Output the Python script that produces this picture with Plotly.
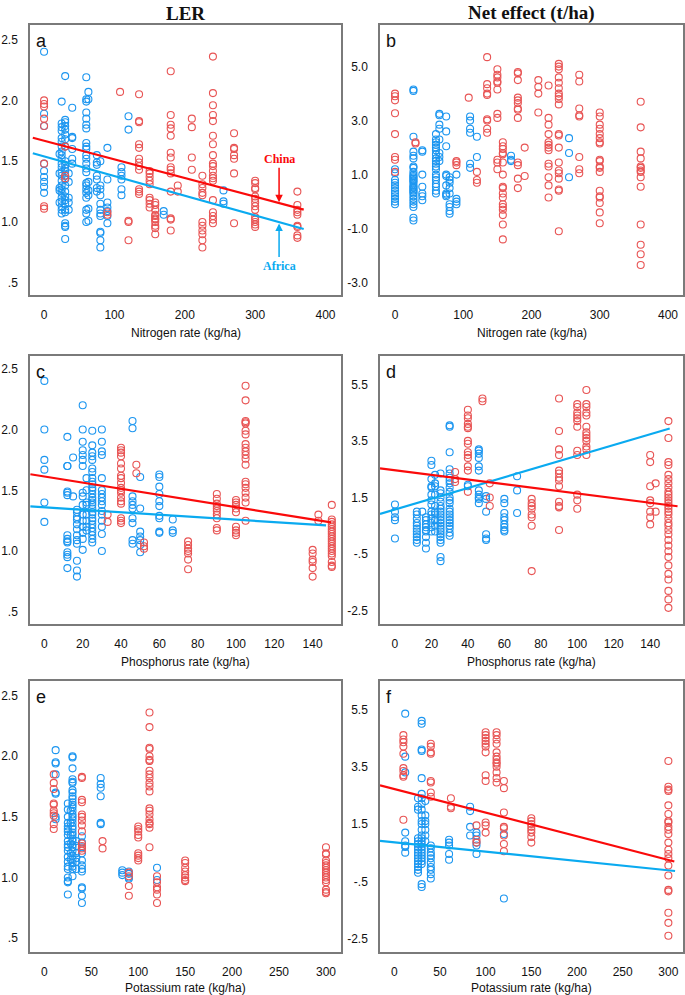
import plotly.graph_objects as go

# ---------------- data (columns: x value, list of y values) ----------------
# Panel a: LER vs Nitrogen
a_af_cols = [0, 22, 25, 30, 35, 40, 60, 63, 75, 80, 90, 110, 120, 170, 255]
a_af_vals = [
    [2.40, 1.89, 1.79, 1.48, 1.42, 1.37, 1.33, 1.29, 1.24],
    [1.56, 1.40, 1.28, 1.26, 1.16],
    [1.99, 1.81, 1.78, 1.75, 1.69, 1.66, 1.62, 1.58, 1.55, 1.52, 1.48, 1.45, 1.41, 1.38, 1.34, 1.30, 1.27, 1.24, 1.20, 1.17, 1.13, 1.10, 1.07],
    [2.20, 1.84, 1.82, 1.79, 1.76, 1.72, 1.68, 1.62, 1.50, 1.47, 1.44, 1.42, 1.38, 1.35, 1.30, 1.25, 1.21, 1.18, 1.15, 1.10, 1.08, 0.99, 0.97, 0.96, 0.86],
    [1.40, 1.33, 1.20, 1.16, 1.10],
    [1.94, 1.70, 1.69, 1.60, 1.52, 1.48],
    [2.19, 2.01, 1.99, 1.90, 1.85, 1.80, 1.77, 1.65, 1.62, 1.60, 1.55, 1.52, 1.48, 1.44, 1.41, 1.32, 1.30, 1.27, 1.24, 1.20, 1.10, 1.07, 1.00],
    [2.07, 2.01, 1.33, 1.26, 1.22, 1.11, 1.01],
    [1.55, 1.49, 1.47, 1.38, 1.35, 1.28, 1.25],
    [1.50, 1.30, 1.27, 1.22, 1.15, 1.10, 1.07, 1.05, 0.92, 0.91, 0.85, 0.79],
    [1.61, 1.35, 1.16, 1.12, 1.09, 1.05, 0.99],
    [1.45, 1.41, 1.38, 1.35, 1.27, 1.22],
    [1.87, 1.76],
    [1.09, 1.06],
    [1.26, 1.17, 1.15],
]
a_cn_cols = [0, 30, 90, 108, 120, 135, 150, 158, 180, 190, 210, 225, 240, 270, 300, 360]
a_cn_vals = [
    [2.00, 1.97, 1.95, 1.85, 1.79, 1.48, 1.13, 1.11],
    [1.62, 1.38, 1.36],
    [1.08, 1.06],
    [2.07],
    [1.01, 1.00, 0.85],
    [2.05, 1.83, 1.82, 1.64, 1.61, 1.52, 1.49, 1.46, 1.43, 1.27, 1.25, 1.23],
    [1.42, 1.40, 1.37, 1.34, 1.31, 1.20, 1.18, 1.15, 1.12],
    [1.16, 1.14, 1.10, 1.06, 1.05, 1.03, 1.00, 0.97, 0.95, 0.90, 1.02],
    [2.24, 1.88, 1.80, 1.77, 1.71, 1.57, 1.53, 1.45, 1.43, 1.40, 1.25, 1.03, 1.02, 0.93],
    [1.30, 1.25],
    [1.85, 1.78, 1.53, 1.43],
    [1.38, 1.31, 1.28, 1.24, 1.22, 1.00, 0.97, 0.93, 0.90, 0.85, 0.79],
    [2.36, 2.06, 1.96, 1.88, 1.83, 1.71, 1.64, 1.55, 1.48, 1.46, 1.42, 1.38, 1.36, 1.34, 1.18, 1.08, 1.05, 1.02, 0.99],
    [1.73, 1.61, 1.60, 1.55, 1.52, 1.40, 0.99],
    [1.34, 1.32, 1.28, 1.27, 1.21, 1.19, 1.16, 1.13, 1.10, 1.04, 1.02, 1.00, 0.98, 0.96],
    [1.25, 1.14, 1.10, 1.08, 1.06, 0.97, 0.96, 0.89, 0.87],
]
a_cn_fit_x = [-16, 369]
a_cn_fit_y = [1.693, 1.102]
a_af_fit_x = [-16, 369]
a_af_fit_y = [1.566, 0.943]

# Panel b: Net effect vs Nitrogen
b_af_cols = [0, 27, 40, 60, 65, 75, 80, 90, 110, 120, 170, 255]
b_af_vals = [
    [1.20, 1.05, 0.80, 0.70, 0.60, 0.50, 0.40, 0.30, 0.20, 0.10, 0.00, -0.10],
    [4.15, 4.10, 2.40, 1.85, 1.70, 1.60, 1.30, 1.25, 1.10, 1.00, 0.95, 0.90, 0.85, 0.80, 0.75, 0.70, 0.60, 0.55, 0.50, 0.45, 0.40, 0.35, 0.30, 0.20, 0.10, 0.00, -0.10, -0.20, -0.60, -0.70],
    [1.90, 1.85, 1.00, 0.55, 0.30, 0.20, 0.05],
    [2.50, 2.30, 2.20, 2.10, 2.00, 1.90, 1.75, 1.60, 1.50, 1.40, 1.30, 1.20, 1.00, 0.90, 0.80, 0.65, 0.55, 0.40, 0.30],
    [3.25, 3.20, 2.85, 2.70, 2.30, 1.80, 1.65, 1.50],
    [3.15, 2.60, 2.05, 1.00, 0.95, 0.60, 0.30, 0.25, 0.20],
    [0.90, 0.80, 0.70, 0.50, 0.30, -0.10, -0.20, -0.35, -0.45],
    [1.00, 0.10, 0.00, -0.10],
    [3.15, 3.00, 2.70, 2.55, 1.40, 1.25],
    [2.40, 1.65],
    [1.70, 1.55, 1.50],
    [2.35, 1.80, 0.90],
]
b_cn_cols = [0, 30, 90, 108, 120, 135, 150, 158, 180, 190, 210, 225, 240, 270, 300, 360]
b_cn_vals = [
    [4.00, 3.90, 3.75, 3.27, 2.50, 1.65, 1.55, 1.10],
    [2.20, 2.15],
    [1.50, 1.45, 1.35],
    [3.85],
    [1.10, 0.80, 0.70],
    [5.35, 4.35, 4.20, 4.00, 3.95, 3.05, 3.00, 2.70, 2.55],
    [4.90, 4.70, 4.60, 4.45, 4.40, 4.15, 3.25, 3.10, 1.55, 1.45, 1.20],
    [2.20, 2.05, 1.95, 1.80, 1.75, 1.45, 1.00, 0.55, 0.50, 0.30, 0.15, -0.10, -0.20, -0.30, -0.50, -0.85, -1.40],
    [4.80, 4.75, 4.50, 3.85, 3.75, 3.65, 3.45, 3.40, 3.10, 1.45, 1.35, 0.85, 0.50],
    [2.00, 0.95],
    [4.50, 4.25, 4.00, 3.30],
    [4.30, 3.10, 2.85, 2.50, 2.20, 2.10, 2.00, 1.90, 1.40, 1.30, 0.90, 0.60, 0.15],
    [5.10, 5.00, 4.90, 4.60, 4.40, 4.20, 4.00, 3.90, 3.80, 3.60, 2.50, 2.45, 2.00, 1.45, 1.15, 1.05, 0.85, 0.45, 0.40, -1.10],
    [4.70, 4.45, 3.45, 3.20, 3.15, 1.65, 1.20, 1.05],
    [3.30, 3.15, 2.85, 2.70, 2.50, 2.35, 2.20, 2.15, 1.55, 1.50, 1.30, 1.25, 1.10, 0.40, 0.20, 0.15, -0.05, -0.40, -0.80],
    [3.70, 2.75, 1.85, 1.60, 1.30, 1.25, 1.15, 1.10, 0.90, 0.55, -0.85, -1.60, -1.95, -2.35],
]

# Panel c: LER vs Phosphorus
c_af_cols = [0, 12, 15, 17, 20, 22, 25, 30, 46, 50, 60, 67]
c_af_vals = [
    [2.40, 2.00, 1.75, 1.67, 1.40, 1.24],
    [1.94, 1.70, 1.70, 1.49, 1.48, 1.46, 1.13, 1.10, 1.08, 1.07, 0.99, 0.97, 0.95, 0.86],
    [1.77, 1.45],
    [1.34, 1.32, 1.28, 1.26, 1.22, 1.18, 1.13, 1.09, 1.06, 0.92, 0.84, 0.79],
    [2.20, 2.00, 1.90, 1.83, 1.79, 1.75, 1.70, 1.48, 1.45, 1.38, 1.30, 1.25, 1.20, 1.15, 1.10, 1.01],
    [1.60, 1.50, 1.40, 1.38, 1.30, 1.25, 1.20, 1.17],
    [1.99, 1.87, 1.81, 1.78, 1.75, 1.68, 1.65, 1.60, 1.57, 1.55, 1.52, 1.50, 1.47, 1.44, 1.42, 1.40, 1.38, 1.35, 1.32, 1.30, 1.27, 1.25, 1.22, 1.19, 1.16, 1.13, 1.10, 1.07],
    [2.00, 1.90, 1.82, 1.79, 1.60, 1.50, 1.47, 1.44, 1.41, 1.38, 1.33, 1.30, 1.25, 1.20, 1.14, 1.00],
    [2.07, 2.01, 1.45, 1.41, 1.38, 1.35, 1.27, 1.23, 1.09, 1.06],
    [1.61, 1.35, 1.16, 1.12, 1.09, 1.05, 0.99],
    [1.63, 1.61, 1.53, 1.47, 1.41, 1.37, 1.29, 1.27, 1.16, 1.15],
    [1.26, 1.17, 1.15],
]
c_cn_cols = [33, 40, 48, 52, 75, 90, 100, 105, 140, 143, 150]
c_cn_vals = [
    [1.30, 1.24],
    [1.85, 1.83, 1.81, 1.78, 1.72, 1.68, 1.62, 1.60, 1.56, 1.52, 1.50, 1.48, 1.44, 1.41, 1.39, 1.27, 1.25, 1.23],
    [1.71, 1.64],
    [1.07, 1.04, 1.02],
    [1.08, 1.05, 1.02, 1.00, 0.98, 0.93, 0.85],
    [1.47, 1.43, 1.39, 1.37, 1.35, 1.33, 1.30, 1.27, 1.19, 1.17],
    [1.42, 1.40, 1.38, 1.35, 1.32, 1.20, 1.17, 1.15, 1.13],
    [2.36, 2.24, 2.07, 2.06, 2.05, 1.99, 1.96, 1.88, 1.85, 1.82, 1.79, 1.76, 1.71, 1.57, 1.55, 1.52, 1.48, 1.44, 1.40, 1.25],
    [1.01, 0.98, 0.93, 0.91, 0.86, 0.79],
    [1.30, 1.25],
    [1.38, 1.26, 1.24, 1.22, 1.20, 1.18, 1.16, 1.14, 1.12, 1.10, 1.08, 1.06, 1.04, 1.02, 1.00, 0.98, 0.96, 0.91, 0.88, 0.87],
]
c_cn_fit_x = [-7.3, 149.6]
c_cn_fit_y = [1.632, 1.236]
c_af_fit_x = [-7.3, 147]
c_af_fit_y = [1.367, 1.211]

# Panel d: Net effect vs Phosphorus
d_af_cols = [0, 12, 15, 17, 20, 22, 25, 30, 40, 46, 50, 60, 67]
d_af_vals = [
    [1.25, 1.00, 0.80, 0.70, 0.05],
    [1.00, 0.90, 0.75, 0.60, 0.50, 0.40, 0.30, 0.20, 0.10, 0.00, -0.10],
    [1.00],
    [0.80, 0.70, 0.55, 0.45, 0.35, 0.30, 0.10, -0.10, -0.30],
    [2.80, 2.65, 2.15, 1.90, 1.85, 1.60, 1.40, 1.25, 1.00, 0.90, 0.75, 0.60, 0.45, 0.30],
    [2.30, 2.00, 1.90, 1.60, 1.20, 1.00, 0.90, 0.70, 0.50, 0.30],
    [2.35, 1.75, 1.65, 1.50, 1.35, 1.20, 1.10, 1.00, 0.90, 0.80, 0.70, 0.60, 0.50, 0.40, 0.30, 0.20, 0.10, 0.00, -0.10, -0.60, -0.75],
    [4.05, 4.00, 3.10, 2.50, 2.35, 2.20, 2.10, 2.00, 1.85, 1.70, 1.50, 1.40, 1.30, 1.10, 1.00, 0.90, 0.80, 0.70, 0.60, 0.50, 0.40, 0.25, 0.15],
    [1.95, 1.90],
    [3.20, 3.15, 3.05, 2.90, 2.60, 2.45, 1.75, 1.60, 1.50, 1.45, 1.30],
    [1.55, 1.45, 1.00, 0.20, 0.05, 0.00],
    [1.45, 1.30, 0.95, 0.80, 0.70, 0.55, 0.45, 0.35, 0.30],
    [2.25, 1.75, 0.95],
]
d_cn_cols = [33, 40, 48, 52, 75, 90, 100, 105, 140, 143, 150]
d_cn_vals = [
    [2.40, 2.15, 2.05],
    [4.60, 4.40, 4.30, 4.10, 4.00, 3.95, 3.50, 3.40, 3.10, 3.00, 2.90, 2.60, 2.45, 1.70],
    [5.00, 4.90],
    [2.00, 1.50, 1.20],
    [1.45, 1.30, 1.20, 1.10, 0.90, 0.80, 0.50, -1.10],
    [5.00, 3.85, 3.20, 3.00, 2.45, 2.35, 2.20, 2.10, 1.90, 1.35, 1.20, 1.15, 0.35],
    [4.80, 4.70, 4.50, 4.40, 4.30, 4.20, 4.00, 3.15, 3.00, 1.60, 1.40, 1.10],
    [5.30, 4.80, 4.70, 4.50, 4.40, 4.00, 3.80, 3.70, 3.60, 3.50, 3.30, 3.20, 3.00],
    [3.00, 2.75, 1.90, 1.40, 1.30, 1.00, 0.80, 0.55],
    [2.00, 1.00],
    [4.20, 3.60, 2.75, 2.65, 2.30, 2.15, 2.00, 1.85, 1.70, 1.60, 1.50, 1.40, 1.30, 1.20, 1.10, 1.00, 0.90, 0.75, 0.60, 0.50, 0.35, 0.20, 0.00, -0.20, -0.40, -0.60, -0.90, -1.20, -1.40, -1.80, -2.10, -2.40],
]
d_cn_fit_x = [-8.2, 155]
d_cn_fit_y = [2.53, 1.19]
d_af_fit_x = [-8.2, 150.7]
d_af_fit_y = [0.92, 3.94]

# Panel e: LER vs Potassium
e_af_cols = [12, 25, 28, 30, 34, 40, 60, 83, 90, 120]
e_af_vals = [
    [2.05, 1.95, 1.94, 1.85, 1.70, 1.69, 1.50, 1.48],
    [1.61, 1.56, 1.50, 1.45, 1.42, 1.40, 1.38, 1.35, 1.30, 1.27, 1.25, 1.22, 1.17, 1.13, 1.09, 1.07, 1.00, 0.97, 0.96, 0.86],
    [1.55, 1.45, 1.35, 1.28, 1.20, 1.15],
    [2.00, 1.99, 1.90, 1.81, 1.79, 1.78, 1.72, 1.70, 1.67, 1.65, 1.62, 1.60, 1.58, 1.55, 1.52, 1.50, 1.48, 1.45, 1.42, 1.40, 1.37, 1.35, 1.32, 1.30, 1.27, 1.25, 1.22, 1.18, 1.15, 1.12, 1.09, 1.07, 1.01],
    [1.30, 1.26, 1.20, 1.16, 1.13, 1.07],
    [1.34, 1.29, 1.25, 1.20, 1.14, 1.10, 1.07, 1.05, 0.92, 0.91, 0.85, 0.79],
    [1.82, 1.77, 1.74, 1.67, 1.45, 1.44],
    [1.06, 1.04, 1.02],
    [1.05, 1.03, 1.00, 0.99],
    [1.08, 0.98],
]
e_cn_cols = [10, 40, 62, 90, 100, 112, 120, 150, 300]
e_cn_vals = [
    [1.85, 1.78, 1.73, 1.61, 1.60, 1.55, 1.53, 1.51, 1.44, 1.40],
    [1.83, 1.82, 1.64, 1.62, 1.52, 1.50, 1.47, 1.43, 1.38, 1.28, 1.26, 1.24, 1.22],
    [1.30, 1.24],
    [1.04, 1.01, 0.93, 0.85],
    [1.42, 1.40, 1.38, 1.35, 1.33, 1.20, 1.18, 1.16, 1.14],
    [2.36, 2.24, 2.07, 2.06, 2.00, 1.97, 1.96, 1.88, 1.85, 1.82, 1.78, 1.75, 1.71, 1.57, 1.55, 1.52, 1.48, 1.45, 1.44, 1.41, 1.25],
    [1.01, 0.96, 0.92, 0.90, 0.86, 0.79],
    [1.14, 1.12, 1.08, 1.05, 1.02, 1.00, 0.98, 0.97],
    [1.25, 1.20, 1.19, 1.14, 1.12, 1.10, 1.08, 1.06, 1.04, 1.02, 1.00, 0.98, 0.96, 0.90, 0.88, 0.87],
]

# Panel f: Net effect vs Potassium
f_af_cols = [12, 26, 30, 34, 40, 60, 83, 90, 120]
f_af_vals = [
    [5.35, 3.85, 3.30, 1.20, 0.90, 0.75, 0.70, 0.50],
    [2.40, 2.10, 2.00, 1.00, 0.90, 0.80, 0.70, 0.60, 0.50, 0.40, 0.30, 0.20, 0.10, 0.00, -0.10, -0.20],
    [5.10, 5.00, 4.10, 4.05, 3.10, 2.55, 2.40, 2.20, 2.00, 1.80, 1.60, 1.50, 1.30, 1.10, 1.00, 0.90, 0.80, 0.70, 0.60, 0.50, 0.40, 0.30, 0.20, 0.10, -0.60, -0.70],
    [2.30, 1.80, 1.60, 1.50, 1.30, 1.10, 0.90],
    [0.75, 0.65, 0.50, 0.40, 0.30, 0.15, 0.00, -0.10, -0.25, -0.40],
    [0.95, 0.85, 0.75, 0.45, 0.25],
    [2.10, 1.95, 1.40, 1.10],
    [1.20, 1.10, 0.85, 0.75, 0.45],
    [1.15, -1.10],
]
f_cn_cols = [10, 40, 62, 90, 100, 112, 120, 150, 300]
f_cn_vals = [
    [4.60, 4.45, 4.35, 4.20, 3.95, 3.45, 3.35, 3.20, 3.15, 1.65],
    [4.30, 4.20, 4.00, 3.95, 3.00, 2.95, 2.60, 2.45],
    [2.40, 2.10, 2.05],
    [1.45, 0.95, 0.85],
    [4.70, 4.60, 4.50, 4.40, 4.30, 4.20, 4.00, 3.20, 3.00, 1.55, 1.45, 1.20],
    [4.70, 4.60, 4.45, 4.30, 4.00, 3.85, 3.75, 3.65, 3.60, 3.50, 3.30, 3.10, 2.95],
    [3.00, 2.75, 1.90, 1.40, 1.35, 1.10, 0.80, 0.55],
    [1.70, 1.60, 1.50, 1.40, 1.30, 1.20, 1.05, 0.85],
    [3.70, 2.80, 2.70, 2.65, 2.15, 1.85, 1.60, 1.55, 1.40, 1.30, 1.15, 0.85, 0.60, 0.45, 0.30, 0.05, -0.30, -0.80, -0.85, -1.60, -1.95, -2.40],
]
f_cn_fit_x = [-15.6, 306.5]
f_cn_fit_y = [2.85, 0.19]
f_af_fit_x = [-15.6, 307.3]
f_af_fit_y = [0.91, -0.14]

# tick labels
n_xticks = [0, 100, 200, 300, 400]
p_xticks = [0, 20, 40, 60, 80, 100, 120, 140]
k_xticks = [0, 50, 100, 150, 200, 250, 300]
ler_yticks = [0.5, 1.0, 1.5, 2.0, 2.5]
ler_ytext = [".5", "1.0", "1.5", "2.0", "2.5"]
netn_yticks = [-3.0, -1.0, 1.0, 3.0, 5.0]
netn_ytext = ["-3.0", "-1.0", "1.0", "3.0", "5.0"]
netpk_yticks = [-2.5, -0.5, 1.5, 3.5, 5.5]
netpk_ytext = ["-2.5", "-.5", "1.5", "3.5", "5.5"]

col_titles = ["LER", "Net effect (t/ha)"]
x_titles = ["Nitrogen rate (kg/ha)", "Phosphorus rate (kg/ha)", "Potassium rate (kg/ha)"]
panel_letters = ["a", "b", "c", "d", "e", "f"]

# ---------------- styling ----------------
W, H = 685, 995
BLUE_PT = "rgb(28,150,240)"
RED_PT = "rgb(232,84,84)"
BLUE_LN = "rgb(10,170,240)"
RED_LN = "rgb(250,10,10)"
FRAME = "#7a7a7a"
TICKFONT = dict(family="Liberation Sans, Arial", size=12, color="#111")

col_px = [(30, 341), (380, 683)]
row_px = [(25, 295), (356, 624), (681, 951.5)]


def xdom(c):
    return [col_px[c][0] / W, col_px[c][1] / W]


def ydom(r):
    return [1 - row_px[r][1] / H, 1 - row_px[r][0] / H]


def flatten(cols, vals):
    xs, ys = [], []
    for cx, vs in zip(cols, vals):
        for v in vs:
            xs.append(cx)
            ys.append(v)
    return xs, ys


panels = [
    (0, 0, (a_af_cols, a_af_vals), (a_cn_cols, a_cn_vals),
     [(a_af_fit_x, a_af_fit_y, BLUE_LN), (a_cn_fit_x, a_cn_fit_y, RED_LN)],
     [-20, 422], [0.40, 2.62], n_xticks, ler_yticks, ler_ytext),
    (0, 1, (b_af_cols, b_af_vals), (b_cn_cols, b_cn_vals), [],
     [-22, 422], [-3.46, 6.54], n_xticks, netn_yticks, netn_ytext),
    (1, 0, (c_af_cols, c_af_vals), (c_cn_cols, c_cn_vals),
     [(c_af_fit_x, c_af_fit_y, BLUE_LN), (c_cn_fit_x, c_cn_fit_y, RED_LN)],
     [-7.5, 154.8], [0.40, 2.605], p_xticks, ler_yticks, ler_ytext),
    (1, 1, (d_af_cols, d_af_vals), (d_cn_cols, d_cn_vals),
     [(d_af_fit_x, d_af_fit_y, BLUE_LN), (d_cn_fit_x, d_cn_fit_y, RED_LN)],
     [-8.2, 158], [-2.97, 6.5], p_xticks, netpk_yticks, netpk_ytext),
    (2, 0, (e_af_cols, e_af_vals), (e_cn_cols, e_cn_vals), [],
     [-15.3, 316], [0.39, 2.62], k_xticks, ler_yticks, ler_ytext),
    (2, 1, (f_af_cols, f_af_vals), (f_cn_cols, f_cn_vals),
     [(f_af_fit_x, f_af_fit_y, BLUE_LN), (f_cn_fit_x, f_cn_fit_y, RED_LN)],
     [-15.6, 316], [-2.95, 6.49], k_xticks, netpk_yticks, netpk_ytext),
]

fig = go.Figure()
layout = dict(width=W, height=H, margin=dict(l=0, r=0, t=0, b=0),
              paper_bgcolor="white", plot_bgcolor="white", showlegend=False)
annotations = []

for i, (r, c, af, cn, fits, xr, yr, xt, yt, ytt) in enumerate(panels):
    k = i + 1
    xa = "x" if k == 1 else f"x{k}"
    ya = "y" if k == 1 else f"y{k}"
    axx = "xaxis" if k == 1 else f"xaxis{k}"
    axy = "yaxis" if k == 1 else f"yaxis{k}"
    for (cols, vals), col in ((af, BLUE_PT), (cn, RED_PT)):
        xs, ys = flatten(cols, vals)
        fig.add_trace(go.Scatter(x=xs, y=ys, xaxis=xa, yaxis=ya, mode="markers",
                                 marker=dict(symbol="circle-open", size=7, color=col,
                                             line=dict(width=1.1, color=col)),
                                 hoverinfo="skip"))
    for fx, fy, lc in fits:
        fig.add_trace(go.Scatter(x=fx, y=fy, xaxis=xa, yaxis=ya, mode="lines",
                                 line=dict(color=lc, width=2.2), hoverinfo="skip"))
    layout[axx] = dict(domain=xdom(c), range=xr, anchor=ya, showgrid=False, zeroline=False,
                       showline=True, mirror=True, linecolor=FRAME, linewidth=1.5,
                       ticks="", tickmode="array", tickvals=xt,
                       ticktext=[str(v) for v in xt], tickfont=TICKFONT,
                       ticklabelstandoff=8)
    layout[axy] = dict(domain=ydom(r), range=yr, anchor=xa, showgrid=False, zeroline=False,
                       showline=True, mirror=True, linecolor=FRAME, linewidth=1.5,
                       ticks="", tickmode="array", tickvals=yt, ticktext=ytt,
                       tickfont=TICKFONT, ticklabelstandoff=8)
    annotations.append(dict(text=panel_letters[i], xref=f"{xa} domain", yref=f"{ya} domain",
                            x=0.012, y=0.985, xanchor="left", yanchor="top", showarrow=False,
                            font=dict(family="Liberation Sans, Arial", size=18, color="#111")))

for c, t in enumerate(col_titles):
    cx = (col_px[c][0] + col_px[c][1]) / 2 / W
    annotations.append(dict(text=f"<b>{t}</b>", xref="paper", yref="paper",
                            x=cx, y=1 - 13 / H, xanchor="center", yanchor="middle",
                            showarrow=False,
                            font=dict(family="Liberation Serif, Times New Roman", size=19,
                                      color="#111")))

title_y = [333, 662, 988]
for r, t in enumerate(x_titles):
    for c in range(2):
        cx = (col_px[c][0] + col_px[c][1]) / 2 / W
        annotations.append(dict(text=t, xref="paper", yref="paper",
                                x=cx, y=1 - title_y[r] / H, xanchor="center", yanchor="middle",
                                showarrow=False,
                                font=dict(family="Liberation Sans, Arial", size=12, color="#111")))

annotations.append(dict(text="<b>China</b>", x=334, y=1.162, xref="x", yref="y",
                        ax=0, ay=-43, showarrow=True, arrowhead=2, arrowsize=1,
                        arrowwidth=1.5, arrowcolor=RED_LN,
                        font=dict(family="Liberation Serif, Times New Roman", size=12,
                                  color=RED_LN)))
annotations.append(dict(text="<b>Africa</b>", x=334, y=0.987, xref="x", yref="y",
                        ax=0, ay=42, showarrow=True, arrowhead=2, arrowsize=1,
                        arrowwidth=1.5, arrowcolor=BLUE_LN,
                        font=dict(family="Liberation Serif, Times New Roman", size=12,
                                  color=BLUE_LN)))

layout["annotations"] = annotations
fig.update_layout(**layout)
fig.write_html("out.html", config={"displayModeBar": False},
               post_script="document.body.style.margin='0';document.body.style.overflow='hidden';")
